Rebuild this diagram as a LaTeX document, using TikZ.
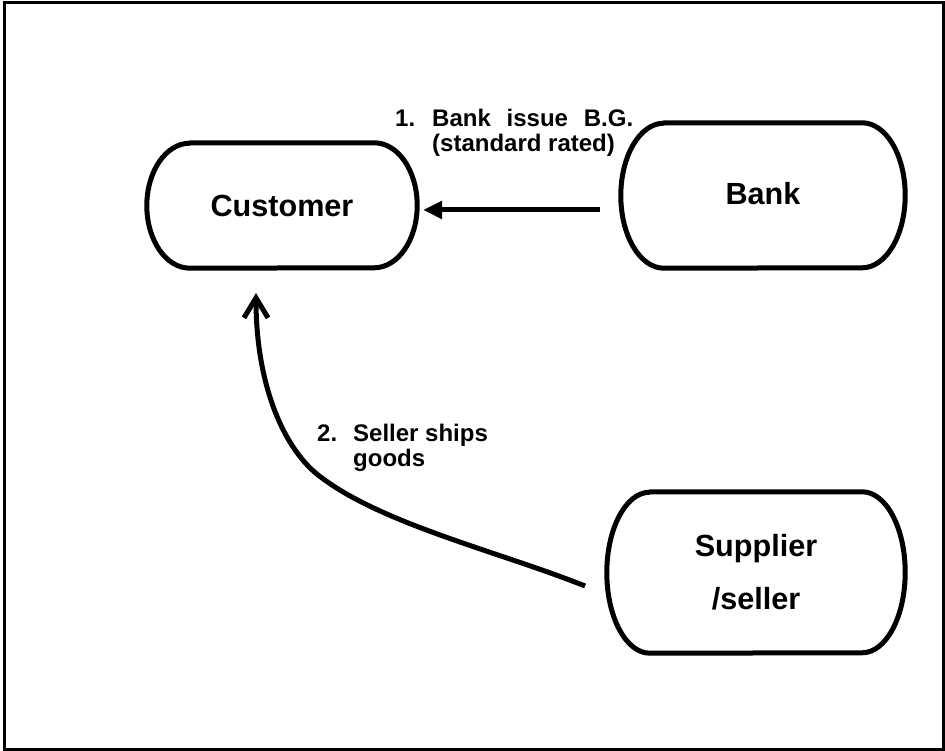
\documentclass[tikz,border=0pt]{standalone}
\usepackage{fontspec}
\setmainfont{Liberation Sans}
\usetikzlibrary{arrows.meta,calc}

\tikzset{
  frameline/.style={line width=3pt},
  boxline/.style={line width=5pt, line join=round},
  termnode/.style={inner sep=0pt, align=center,
    font=\bfseries\fontsize{30.6}{53}\selectfont},
  lbl/.style={inner sep=0pt, font=\bfseries\fontsize{24}{24}\selectfont},
  flow/.style={line width=5pt},
}

% Terminal outline: straight top and bottom, elliptic ends.
% #1 node name, #2 horizontal radius of the ends, #3 half height
\newcommand\termoutline[3]{%
  \draw[boxline] ($(#1.north west)+(#2,0)$) -- ($(#1.north east)+(-#2,0)$)
    arc[start angle=90, end angle=-90, x radius=#2pt, y radius=#3pt]
    -- ($(#1.south west)+(#2,0)$)
    arc[start angle=270, end angle=90, x radius=#2pt, y radius=#3pt]
    -- cycle;}

\begin{document}
\begin{tikzpicture}[x=1pt,y=1pt]
  \useasboundingbox (0,0) rectangle (945,751);
  \draw[frameline] (4.7,1.3) rectangle (943.5,748.5);

  % parties
  \node[termnode, minimum width=270pt, minimum height=125pt] (customer) at (282,545.5) {Customer};
  \node[termnode, minimum width=284pt, minimum height=145pt] (bank) at (763,555.5) {\raisebox{5pt}{Bank}};
  \node[termnode, minimum width=298pt, minimum height=161pt] (supplier) at (756,178.5) {Supplier\\/seller};
  \termoutline{customer}{43}{62.5}
  \termoutline{bank}{43}{72.5}
  \termoutline{supplier}{43}{80.5}

  % step labels
  \node[lbl, anchor=base west] (lab1) at (395,624)
    {\begin{tabular}[t]{@{}p{37pt}@{}l@{}}1. & \makebox[201pt][s]{Bank issue B.G.}\\ & (standard rated)\end{tabular}};
  \node[lbl, anchor=base west] (lab2) at (317,309)
    {\begin{tabular}[t]{@{}p{36pt}@{}l@{}}2. & Seller ships\\ & goods\end{tabular}};

  % step 1: guarantee from the bank to the customer
  \coordinate (bankout) at (600,541);
  \coordinate (custin) at (423,541);
  \draw[flow, -{Triangle[length=19pt,width=17pt]}] (bankout) -- (custin);

  % step 2: goods shipped from the supplier to the customer
  \coordinate (shipstart) at (585,165);
  \coordinate (shipbend) at (322,273);
  \coordinate (shipend) at (256,458);
  \draw[flow, -{Straight Barb[length=20pt,width=24pt]}]
    (shipstart) .. controls (500,199) and (385,226) .. (shipbend)
    .. controls (284,300) and (256,366) .. (shipend);
\end{tikzpicture}
\end{document}
